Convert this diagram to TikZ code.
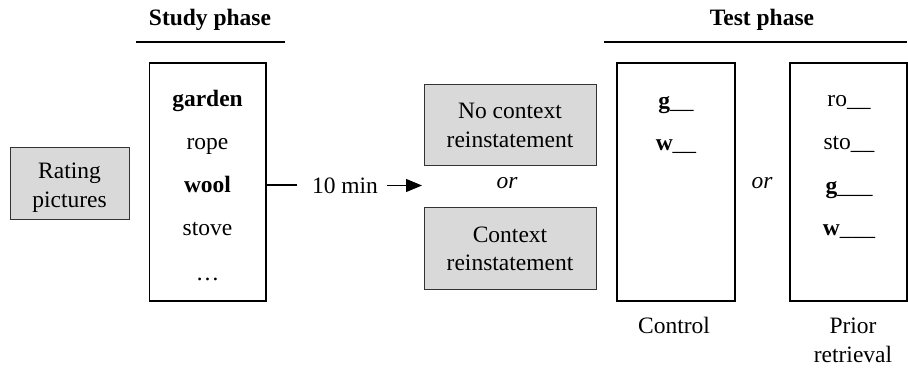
\documentclass[tikz,border=0pt]{standalone}
\usepackage{fontspec}
\setmainfont{Liberation Serif}
\usetikzlibrary{arrows.meta}
\begin{document}
\begin{tikzpicture}[x=1pt,y=-1pt,
  txt/.style={inner sep=0pt,anchor=base,font=\fontsize{23.5}{29}\selectfont},
  lbl/.style={txt,align=center},
  graybox/.style={draw=black!80,line width=1pt,fill=black!15},
  listbox/.style={draw=black,line width=1.8pt},
  rule/.style={line width=1.6pt},
  every node/.style={txt}]
\useasboundingbox (0,0) rectangle (908,367);

% headings with their rules
\node (studyhead) at (210,25) {\textbf{Study phase}};
\draw[rule] (136,42) coordinate (sl) -- (285,42) coordinate (sr);
\node (testhead) at (762,25) {\textbf{Test phase}};
\draw[rule] (604,42) coordinate (tl) -- (907,42) coordinate (tr);

% rating task
\draw[graybox] (10,147) rectangle (129,219);
\node (rating) at (69.5,178) {Rating};
\node (pictures) at (69.5,207) {pictures};

% study list
\draw[listbox] (149.5,63) rectangle (266,301);
\coordinate (studyR) at (266,185);
\node (w1) at (207.5,106) {\textbf{garden}};
\node (w2) at (207.5,149) {rope};
\node (w3) at (207.5,192) {\textbf{wool}};
\node (w4) at (207.5,235) {stove};
\node (w5) at (207.5,280) {…};

% retention interval
\coordinate (lineEnd) at (297,185);
\draw[line width=1.2pt] (studyR) -- (lineEnd);
\node (delay) at (345,193) {10 min};
\coordinate (arrS) at (387,185.5);
\coordinate (arrE) at (422,185.5);
\draw[line width=1.2pt,-{Triangle[length=16pt,width=13pt]}] (arrS) -- (arrE);

% context manipulation
\draw[graybox] (424,84) rectangle (596,165);
\node (nc1) at (510,118) {No context};
\node (nc2) at (510,147) {reinstatement};
\node (or1) at (507,188) {\textit{or}};
\draw[graybox] (424,207) rectangle (596,289);
\node (c1) at (510,242) {Context};
\node (c2) at (510,270) {reinstatement};

% control test list
\draw[listbox] (617,63) rectangle (735,301);
\node (cg) at (676,108) {\textbf{g}\_\_};
\node (cw) at (676,150) {\textbf{w}\_\_};
\node (or2) at (762,188) {\textit{or}};

% prior retrieval test list
\draw[listbox] (790,63) rectangle (907,301);
\node (p1) at (849,106) {ro\_\_};
\node (p2) at (849,149) {sto\_\_};
\node (p3) at (849,193) {\textbf{g}\_\_\_};
\node (p4) at (849,235) {\textbf{w}\_\_\_};

% condition labels
\node (ctl) at (674,333) {Control};
\node (pr1) at (853,333) {Prior};
\node (pr2) at (853,362) {retrieval};
\end{tikzpicture}
\end{document}
